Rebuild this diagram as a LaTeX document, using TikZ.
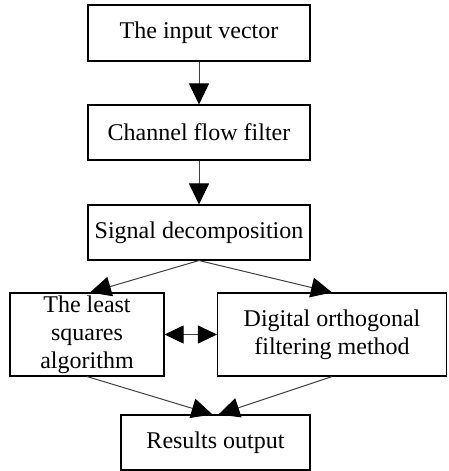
\documentclass[tikz,border=0pt]{standalone}
\usepackage{fontspec}
\setmainfont{Liberation Serif}
\usetikzlibrary{arrows.meta}
\tikzset{
  box/.style={draw=black, line width=1.1pt, inner sep=0pt, align=center,
    font=\fontsize{24}{28}\selectfont},
  tip/.style={Triangle[length=21pt,width=20pt,fill=black,color=black]},
  flow/.style={draw=black!75, line width=1pt, -{Triangle[length=21pt,width=20pt,fill=black,color=black]}},
  both/.style={draw=black!75, line width=1pt, {Triangle[length=19pt,width=18pt,fill=black,color=black]}-{Triangle[length=19pt,width=18pt,fill=black,color=black]}}
}
\begin{document}
\begin{tikzpicture}[x=1pt,y=-1pt]
\useasboundingbox (0,0) rectangle (448,471);
\node[box, minimum width=222pt, minimum height=56pt] (b1) at (199,33) {The input vector};
\node[box, minimum width=222pt, minimum height=55pt] (b2) at (199,132.5) {Channel flow filter};
\node[box, minimum width=222pt, minimum height=55pt] (b3) at (199,232.5) {Signal decomposition};
\node[box, minimum width=154pt, minimum height=83pt] (b4) at (87,334.5) {The least\\squares\\algorithm};
\node[box, minimum width=229pt, minimum height=83pt] (b5) at (332,334.5) {Digital orthogonal\\filtering method};
\node[box, minimum width=189pt, minimum height=55pt] (b6) at (215.5,442.5) {Results output};
\draw[flow] (b1.south) -- (b2.north);
\draw[flow] (b2.south) -- (b3.north);
\draw[flow] (b3.south) -- ([xshift=3pt]b4.north);
\draw[flow] (b3.south) -- (b5.north);
\draw[both] (b4.east) -- (b5.west);
\draw[flow] (b4.south) -- ([xshift=-3pt]b6.north);
\draw[flow] (b5.south) -- ([xshift=3pt]b6.north);
\end{tikzpicture}
\end{document}
